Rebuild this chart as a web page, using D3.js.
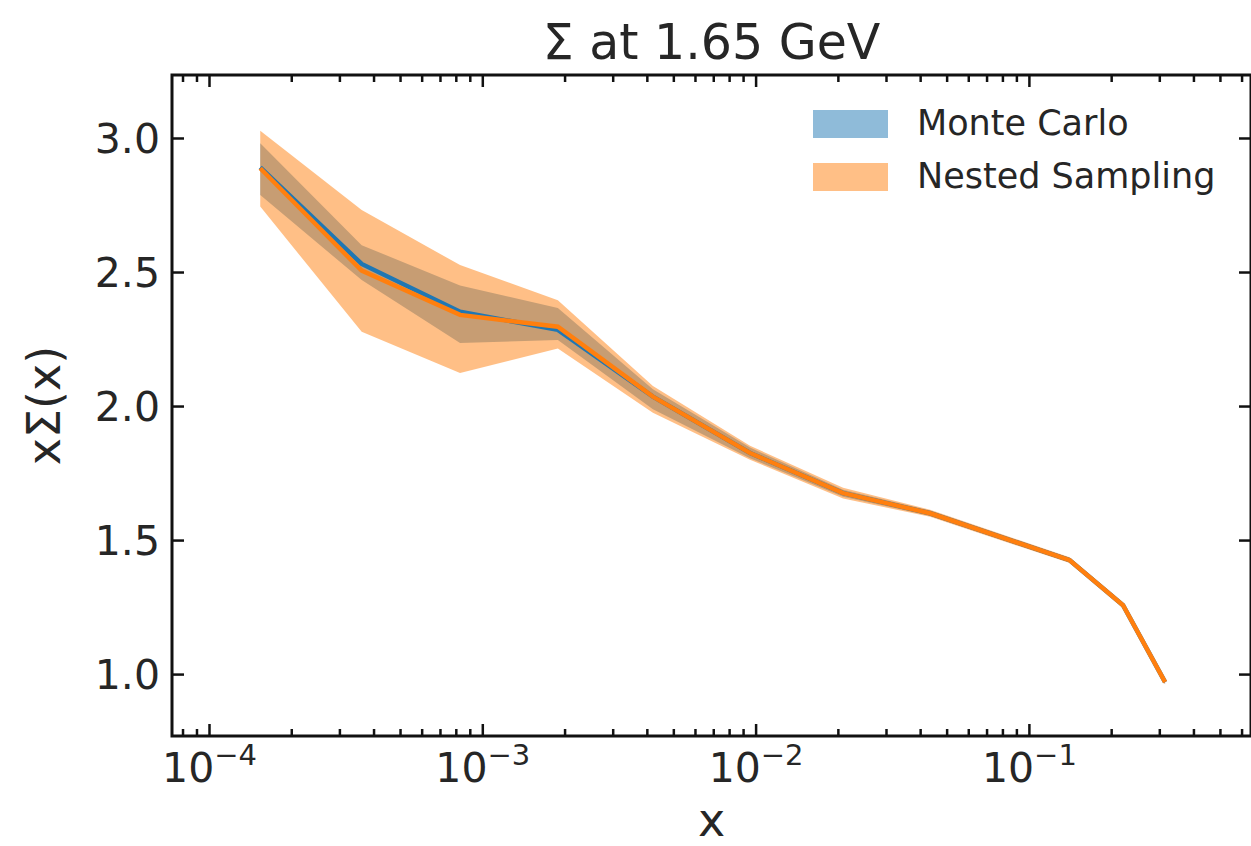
<!DOCTYPE html>
<html>
<head>
<meta charset="utf-8">
<script src="https://cdn.jsdelivr.net/npm/d3@7"></script>
<style>
  html, body { margin: 0; padding: 0; background: #fff; }
  svg { display: block; font-family: "DejaVu Sans", sans-serif; }
</style>
</head>
<body>
<svg id="chart" width="1251" height="846"></svg>
<script>
// values
const xVals  = [1.54e-4, 3.62e-4, 8.29e-4, 1.89e-3, 4.21e-3, 9.54e-3, 2.09e-2, 4.35e-2, 0.141, 0.221, 0.315];
const mcMid  = [2.890, 2.530, 2.352, 2.284, 2.035, 1.825, 1.675, 1.600, 1.425, 1.257, 0.970];
const mcLow  = [2.787, 2.470, 2.235, 2.246, 1.988, 1.805, 1.662, 1.590, 1.416, 1.249, 0.962];
const mcHigh = [2.980, 2.600, 2.450, 2.366, 2.063, 1.845, 1.688, 1.610, 1.434, 1.265, 0.978];
const nsMid  = [2.887, 2.505, 2.340, 2.296, 2.035, 1.825, 1.675, 1.600, 1.425, 1.257, 0.970];
const nsLow  = [2.744, 2.277, 2.123, 2.215, 1.975, 1.800, 1.655, 1.587, 1.414, 1.248, 0.961];
const nsHigh = [3.027, 2.731, 2.526, 2.395, 2.075, 1.852, 1.695, 1.613, 1.436, 1.266, 0.979];

const xMajorExp = [-4, -3, -2, -1];
const yTicks = [1.0, 1.5, 2.0, 2.5, 3.0];
const seriesNames = ["Monte Carlo", "Nested Sampling"];

const blue = "#1f77b4", orange = "#ff7f0e";
const ink = "#262626";

const pLeft = 172, pRight = 1251, pTop = 75, pBottom = 736;

const svg = d3.select("#chart");

const x = d3.scaleLog()
  .domain([Math.pow(10, -4 - 37 / 273.3), Math.pow(10, -4 + (1251 - 209) / 273.3)])
  .range([pLeft, pRight]);
const y = d3.scaleLinear()
  .domain([0.769, 3.235])
  .range([pBottom, pTop]);

// minor ticks 2..9 per decade inside domain
const minors = [];
for (let e = -5; e <= 0; e++) {
  for (let m = 2; m <= 9; m++) {
    const v = m * Math.pow(10, e);
    if (v > x.domain()[0] && v < x.domain()[1]) minors.push(v);
  }
}
const majors = xMajorExp.map(e => Math.pow(10, e));

const plot = svg.append("g");

function band(lo, hi) {
  return d3.area()
    .x((d, i) => x(xVals[i]))
    .y0((d, i) => y(lo[i]))
    .y1((d, i) => y(hi[i]))(xVals);
}
function line(mid) {
  return d3.line()
    .x((d, i) => x(xVals[i]))
    .y((d, i) => y(mid[i]))(xVals);
}

plot.append("path").attr("d", band(mcLow, mcHigh)).attr("fill", blue).attr("fill-opacity", 0.5);
plot.append("path").attr("d", band(nsLow, nsHigh)).attr("fill", orange).attr("fill-opacity", 0.5);
plot.append("path").attr("d", line(mcMid)).attr("fill", "none").attr("stroke", blue).attr("stroke-width", 4.5);
plot.append("path").attr("d", line(nsMid)).attr("fill", "none").attr("stroke", orange).attr("stroke-width", 4.5);

// axes (ticks point inward on all four sides)
function styleAxis(g) {
  g.select(".domain").remove();
  g.selectAll(".tick line").attr("stroke", "#111").attr("stroke-width", 2.5);
}

const gBottom = svg.append("g").attr("transform", `translate(0,${pBottom})`)
  .call(d3.axisBottom(x).tickValues(majors).tickSize(-12).tickFormat(""))
  .call(styleAxis);
svg.append("g").attr("transform", `translate(0,${pBottom})`)
  .call(d3.axisBottom(x).tickValues(minors).tickSize(-7).tickFormat(""))
  .call(styleAxis);
svg.append("g").attr("transform", `translate(0,${pTop})`)
  .call(d3.axisTop(x).tickValues(majors).tickSize(-12).tickFormat(""))
  .call(styleAxis);
svg.append("g").attr("transform", `translate(0,${pTop})`)
  .call(d3.axisTop(x).tickValues(minors).tickSize(-7).tickFormat(""))
  .call(styleAxis);

gBottom.selectAll(".tick text").remove();
gBottom.selectAll(".tick").each(function (d) {
  const t = d3.select(this).append("text")
    .attr("y", 46).attr("text-anchor", "middle")
    .attr("fill", ink).attr("font-size", 41)
    .attr("font-family", "DejaVu Sans");
  t.append("tspan").text("10");
  t.append("tspan").attr("dy", -17).attr("font-size", 29)
    .text("\u2212" + Math.round(-Math.log10(d)));
});

svg.append("g").attr("transform", `translate(${pLeft},0)`)
  .call(d3.axisLeft(y).tickValues(yTicks).tickSize(-12).tickPadding(12).tickFormat(d3.format(".1f")))
  .call(styleAxis)
  .call(g => g.selectAll(".tick text").attr("font-size", 41).attr("fill", ink)
    .attr("font-family", "DejaVu Sans").attr("dy", "0.36em"));
svg.append("g").attr("transform", `translate(${pRight},0)`)
  .call(d3.axisRight(y).tickValues(yTicks).tickSize(-12).tickFormat(""))
  .call(styleAxis);

// frame
svg.append("rect")
  .attr("x", pLeft).attr("y", pTop)
  .attr("width", pRight - pLeft).attr("height", pBottom - pTop)
  .attr("fill", "none").attr("stroke", "#111").attr("stroke-width", 3);

// labels
svg.append("text").attr("x", (pLeft + pRight) / 2).attr("y", 59)
  .attr("text-anchor", "middle").attr("font-size", 49).attr("fill", ink)
  .text("\u03A3 at 1.65 GeV");
svg.append("text").attr("x", (pLeft + pRight) / 2).attr("y", 836)
  .attr("text-anchor", "middle").attr("font-size", 46).attr("fill", ink)
  .text("x");
svg.append("text")
  .attr("transform", `translate(60,${(pTop + pBottom) / 2}) rotate(-90)`)
  .attr("text-anchor", "middle").attr("font-size", 46).attr("fill", ink)
  .text("x\u03A3(x)");

// legend
const legend = svg.append("g");
const legColors = [blue, orange];
seriesNames.forEach((name, i) => {
  const yy = 110 + i * 53;
  legend.append("rect").attr("x", 813).attr("y", yy).attr("width", 75).attr("height", 28)
    .attr("fill", legColors[i]).attr("fill-opacity", 0.5);
  legend.append("text").attr("x", 917).attr("y", yy + 25)
    .attr("font-size", 35).attr("fill", ink).text(name);
});
</script>
</body>
</html>
